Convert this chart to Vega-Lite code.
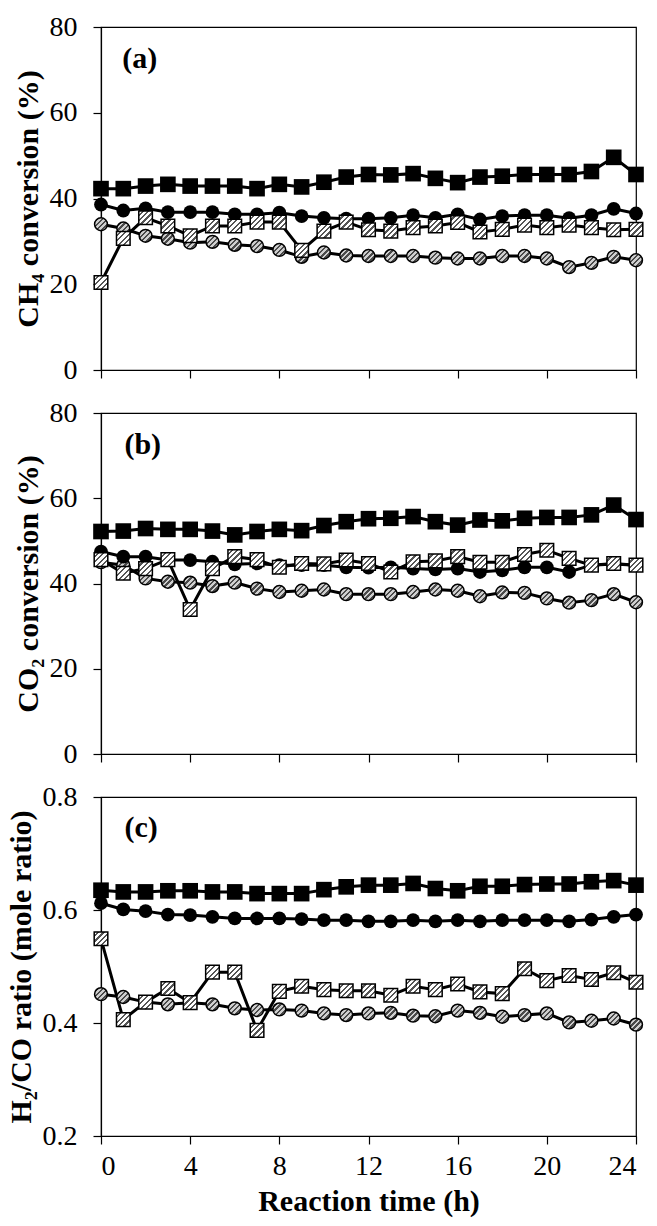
{
  "$schema": "https://vega.github.io/schema/vega-lite/v6.json",
  "background": "white",
  "padding": {"left": 5, "top": 12, "right": 5, "bottom": 5},
  "spacing": 43,
  "bounds": "flush",
  "config": {
    "font": "Liberation Serif",
    "view": {"stroke": "black", "strokeWidth": 1.2},
    "axis": {
      "grid": false,
      "domainColor": "black",
      "domainWidth": 1.2,
      "tickColor": "black",
      "tickWidth": 1.2,
      "tickSize": 8,
      "labelFontSize": 28,
      "labelColor": "black",
      "titleFontSize": 30,
      "titleFontWeight": "bold",
      "titleColor": "black"
    },
    "axisY": {"labelPadding": 16, "titlePadding": 6},
    "axisX": {"labelPadding": 8, "titlePadding": 6},
    "text": {"font": "Liberation Serif", "fontSize": 30, "fontWeight": "bold", "color": "black"}
  },
  "datasets": {
    "a": [
      {"s":"filled square","t":0,"v":42.3},{"s":"filled square","t":1,"v":42.3},{"s":"filled square","t":2,"v":42.9},{"s":"filled square","t":3,"v":43.3},{"s":"filled square","t":4,"v":42.9},
      {"s":"filled square","t":5,"v":42.9},{"s":"filled square","t":6,"v":42.9},{"s":"filled square","t":7,"v":42.3},{"s":"filled square","t":8,"v":43.3},{"s":"filled square","t":9,"v":42.7},
      {"s":"filled square","t":10,"v":43.8},{"s":"filled square","t":11,"v":45.0},{"s":"filled square","t":12,"v":45.6},{"s":"filled square","t":13,"v":45.5},{"s":"filled square","t":14,"v":45.8},
      {"s":"filled square","t":15,"v":44.7},{"s":"filled square","t":16,"v":43.7},{"s":"filled square","t":17,"v":45.0},{"s":"filled square","t":18,"v":45.2},{"s":"filled square","t":19,"v":45.6},
      {"s":"filled square","t":20,"v":45.6},{"s":"filled square","t":21,"v":45.6},{"s":"filled square","t":22,"v":46.3},{"s":"filled square","t":23,"v":49.6},{"s":"filled square","t":24,"v":45.6},
      {"s":"filled circle","t":0,"v":38.6},{"s":"filled circle","t":1,"v":37.2},{"s":"filled circle","t":2,"v":37.7},{"s":"filled circle","t":3,"v":36.8},{"s":"filled circle","t":4,"v":36.8},
      {"s":"filled circle","t":5,"v":36.8},{"s":"filled circle","t":6,"v":36.3},{"s":"filled circle","t":7,"v":36.3},{"s":"filled circle","t":8,"v":36.7},{"s":"filled circle","t":9,"v":35.9},
      {"s":"filled circle","t":10,"v":35.5},{"s":"filled circle","t":11,"v":35.3},{"s":"filled circle","t":12,"v":35.3},{"s":"filled circle","t":13,"v":35.5},{"s":"filled circle","t":14,"v":36.1},
      {"s":"filled circle","t":15,"v":35.5},{"s":"filled circle","t":16,"v":36.3},{"s":"filled circle","t":17,"v":35.1},{"s":"filled circle","t":18,"v":35.9},{"s":"filled circle","t":19,"v":36.1},
      {"s":"filled circle","t":20,"v":36.1},{"s":"filled circle","t":21,"v":35.4},{"s":"filled circle","t":22,"v":36.1},{"s":"filled circle","t":23,"v":37.6},{"s":"filled circle","t":24,"v":36.5},
      {"s":"hatched square","t":0,"v":20.4},{"s":"hatched square","t":1,"v":30.7},{"s":"hatched square","t":2,"v":35.5},{"s":"hatched square","t":3,"v":33.6},{"s":"hatched square","t":4,"v":31.3},
      {"s":"hatched square","t":5,"v":33.6},{"s":"hatched square","t":6,"v":33.6},{"s":"hatched square","t":7,"v":34.5},{"s":"hatched square","t":8,"v":34.5},{"s":"hatched square","t":9,"v":27.9},
      {"s":"hatched square","t":10,"v":32.4},{"s":"hatched square","t":11,"v":34.5},{"s":"hatched square","t":12,"v":32.7},{"s":"hatched square","t":13,"v":32.4},{"s":"hatched square","t":14,"v":33.2},
      {"s":"hatched square","t":15,"v":33.6},{"s":"hatched square","t":16,"v":34.4},{"s":"hatched square","t":17,"v":32.2},{"s":"hatched square","t":18,"v":32.8},{"s":"hatched square","t":19,"v":33.8},
      {"s":"hatched square","t":20,"v":33.2},{"s":"hatched square","t":21,"v":33.8},{"s":"hatched square","t":22,"v":33.2},{"s":"hatched square","t":23,"v":32.7},{"s":"hatched square","t":24,"v":32.8},
      {"s":"hatched circle","t":0,"v":34.0},{"s":"hatched circle","t":1,"v":33.0},{"s":"hatched circle","t":2,"v":31.3},{"s":"hatched circle","t":3,"v":30.6},{"s":"hatched circle","t":4,"v":29.7},
      {"s":"hatched circle","t":5,"v":29.9},{"s":"hatched circle","t":6,"v":29.2},{"s":"hatched circle","t":7,"v":28.9},{"s":"hatched circle","t":8,"v":28.0},{"s":"hatched circle","t":9,"v":26.4},
      {"s":"hatched circle","t":10,"v":27.4},{"s":"hatched circle","t":11,"v":26.7},{"s":"hatched circle","t":12,"v":26.6},{"s":"hatched circle","t":13,"v":26.6},{"s":"hatched circle","t":14,"v":26.6},
      {"s":"hatched circle","t":15,"v":26.2},{"s":"hatched circle","t":16,"v":26.0},{"s":"hatched circle","t":17,"v":26.0},{"s":"hatched circle","t":18,"v":26.6},{"s":"hatched circle","t":19,"v":26.6},
      {"s":"hatched circle","t":20,"v":26.0},{"s":"hatched circle","t":21,"v":24.0},{"s":"hatched circle","t":22,"v":25.0},{"s":"hatched circle","t":23,"v":26.4},{"s":"hatched circle","t":24,"v":25.6}
    ],
    "b": [
      {"s":"filled square","t":0,"v":52.2},{"s":"filled square","t":1,"v":52.3},{"s":"filled square","t":2,"v":52.9},{"s":"filled square","t":3,"v":52.7},{"s":"filled square","t":4,"v":52.7},
      {"s":"filled square","t":5,"v":52.3},{"s":"filled square","t":6,"v":51.4},{"s":"filled square","t":7,"v":52.2},{"s":"filled square","t":8,"v":52.7},{"s":"filled square","t":9,"v":52.4},
      {"s":"filled square","t":10,"v":53.6},{"s":"filled square","t":11,"v":54.5},{"s":"filled square","t":12,"v":55.2},{"s":"filled square","t":13,"v":55.3},{"s":"filled square","t":14,"v":55.7},
      {"s":"filled square","t":15,"v":54.5},{"s":"filled square","t":16,"v":53.7},{"s":"filled square","t":17,"v":54.9},{"s":"filled square","t":18,"v":54.7},{"s":"filled square","t":19,"v":55.3},
      {"s":"filled square","t":20,"v":55.5},{"s":"filled square","t":21,"v":55.5},{"s":"filled square","t":22,"v":56.1},{"s":"filled square","t":23,"v":58.4},{"s":"filled square","t":24,"v":55.0},
      {"s":"filled circle","t":0,"v":47.5},{"s":"filled circle","t":1,"v":46.3},{"s":"filled circle","t":2,"v":46.3},{"s":"filled circle","t":3,"v":45.5},{"s":"filled circle","t":4,"v":45.5},
      {"s":"filled circle","t":5,"v":45.1},{"s":"filled circle","t":6,"v":44.5},{"s":"filled circle","t":7,"v":44.7},{"s":"filled circle","t":8,"v":44.3},{"s":"filled circle","t":9,"v":44.3},
      {"s":"filled circle","t":10,"v":44.3},{"s":"filled circle","t":11,"v":43.8},{"s":"filled circle","t":12,"v":43.7},{"s":"filled circle","t":13,"v":43.8},{"s":"filled circle","t":14,"v":43.5},
      {"s":"filled circle","t":15,"v":43.3},{"s":"filled circle","t":16,"v":43.5},{"s":"filled circle","t":17,"v":42.7},{"s":"filled circle","t":18,"v":43.1},{"s":"filled circle","t":19,"v":43.8},
      {"s":"filled circle","t":20,"v":43.8},{"s":"filled circle","t":21,"v":42.7},{"s":"filled circle","t":22,"v":44.3},{"s":"filled circle","t":23,"v":44.6},{"s":"filled circle","t":24,"v":44.3},
      {"s":"hatched square","t":0,"v":45.6},{"s":"hatched square","t":1,"v":42.4},{"s":"hatched square","t":2,"v":43.5},{"s":"hatched square","t":3,"v":45.6},{"s":"hatched square","t":4,"v":33.9},
      {"s":"hatched square","t":5,"v":43.5},{"s":"hatched square","t":6,"v":46.3},{"s":"hatched square","t":7,"v":45.6},{"s":"hatched square","t":8,"v":43.8},{"s":"hatched square","t":9,"v":44.7},
      {"s":"hatched square","t":10,"v":44.6},{"s":"hatched square","t":11,"v":45.5},{"s":"hatched square","t":12,"v":44.7},{"s":"hatched square","t":13,"v":42.7},{"s":"hatched square","t":14,"v":45.1},
      {"s":"hatched square","t":15,"v":45.3},{"s":"hatched square","t":16,"v":46.3},{"s":"hatched square","t":17,"v":45.0},{"s":"hatched square","t":18,"v":45.0},{"s":"hatched square","t":19,"v":46.8},
      {"s":"hatched square","t":20,"v":47.8},{"s":"hatched square","t":21,"v":45.9},{"s":"hatched square","t":22,"v":44.3},{"s":"hatched square","t":23,"v":44.7},{"s":"hatched square","t":24,"v":44.3},
      {"s":"hatched circle","t":0,"v":45.0},{"s":"hatched circle","t":1,"v":44.3},{"s":"hatched circle","t":2,"v":41.2},{"s":"hatched circle","t":3,"v":40.4},{"s":"hatched circle","t":4,"v":40.2},
      {"s":"hatched circle","t":5,"v":39.4},{"s":"hatched circle","t":6,"v":40.2},{"s":"hatched circle","t":7,"v":38.8},{"s":"hatched circle","t":8,"v":38.0},{"s":"hatched circle","t":9,"v":38.3},
      {"s":"hatched circle","t":10,"v":38.6},{"s":"hatched circle","t":11,"v":37.5},{"s":"hatched circle","t":12,"v":37.5},{"s":"hatched circle","t":13,"v":37.5},{"s":"hatched circle","t":14,"v":38.0},
      {"s":"hatched circle","t":15,"v":38.6},{"s":"hatched circle","t":16,"v":38.3},{"s":"hatched circle","t":17,"v":37.0},{"s":"hatched circle","t":18,"v":37.9},{"s":"hatched circle","t":19,"v":37.8},
      {"s":"hatched circle","t":20,"v":36.5},{"s":"hatched circle","t":21,"v":35.5},{"s":"hatched circle","t":22,"v":36.1},{"s":"hatched circle","t":23,"v":37.5},{"s":"hatched circle","t":24,"v":35.6}
    ],
    "c": [
      {"s":"filled square","t":0,"v":0.635},{"s":"filled square","t":1,"v":0.632},{"s":"filled square","t":2,"v":0.632},{"s":"filled square","t":3,"v":0.634},{"s":"filled square","t":4,"v":0.634},
      {"s":"filled square","t":5,"v":0.632},{"s":"filled square","t":6,"v":0.632},{"s":"filled square","t":7,"v":0.629},{"s":"filled square","t":8,"v":0.629},{"s":"filled square","t":9,"v":0.629},
      {"s":"filled square","t":10,"v":0.636},{"s":"filled square","t":11,"v":0.641},{"s":"filled square","t":12,"v":0.644},{"s":"filled square","t":13,"v":0.644},{"s":"filled square","t":14,"v":0.647},
      {"s":"filled square","t":15,"v":0.638},{"s":"filled square","t":16,"v":0.634},{"s":"filled square","t":17,"v":0.642},{"s":"filled square","t":18,"v":0.642},{"s":"filled square","t":19,"v":0.645},
      {"s":"filled square","t":20,"v":0.646},{"s":"filled square","t":21,"v":0.646},{"s":"filled square","t":22,"v":0.650},{"s":"filled square","t":23,"v":0.652},{"s":"filled square","t":24,"v":0.644},
      {"s":"filled circle","t":0,"v":0.612},{"s":"filled circle","t":1,"v":0.601},{"s":"filled circle","t":2,"v":0.598},{"s":"filled circle","t":3,"v":0.592},{"s":"filled circle","t":4,"v":0.591},
      {"s":"filled circle","t":5,"v":0.588},{"s":"filled circle","t":6,"v":0.585},{"s":"filled circle","t":7,"v":0.585},{"s":"filled circle","t":8,"v":0.585},{"s":"filled circle","t":9,"v":0.584},
      {"s":"filled circle","t":10,"v":0.582},{"s":"filled circle","t":11,"v":0.582},{"s":"filled circle","t":12,"v":0.580},{"s":"filled circle","t":13,"v":0.580},{"s":"filled circle","t":14,"v":0.582},
      {"s":"filled circle","t":15,"v":0.580},{"s":"filled circle","t":16,"v":0.582},{"s":"filled circle","t":17,"v":0.580},{"s":"filled circle","t":18,"v":0.582},{"s":"filled circle","t":19,"v":0.582},
      {"s":"filled circle","t":20,"v":0.582},{"s":"filled circle","t":21,"v":0.580},{"s":"filled circle","t":22,"v":0.583},{"s":"filled circle","t":23,"v":0.588},{"s":"filled circle","t":24,"v":0.592},
      {"s":"hatched square","t":0,"v":0.549},{"s":"hatched square","t":1,"v":0.406},{"s":"hatched square","t":2,"v":0.437},{"s":"hatched square","t":3,"v":0.461},{"s":"hatched square","t":4,"v":0.436},
      {"s":"hatched square","t":5,"v":0.490},{"s":"hatched square","t":6,"v":0.490},{"s":"hatched square","t":7,"v":0.387},{"s":"hatched square","t":8,"v":0.456},{"s":"hatched square","t":9,"v":0.465},
      {"s":"hatched square","t":10,"v":0.459},{"s":"hatched square","t":11,"v":0.457},{"s":"hatched square","t":12,"v":0.457},{"s":"hatched square","t":13,"v":0.449},{"s":"hatched square","t":14,"v":0.465},
      {"s":"hatched square","t":15,"v":0.459},{"s":"hatched square","t":16,"v":0.469},{"s":"hatched square","t":17,"v":0.455},{"s":"hatched square","t":18,"v":0.452},{"s":"hatched square","t":19,"v":0.496},
      {"s":"hatched square","t":20,"v":0.475},{"s":"hatched square","t":21,"v":0.484},{"s":"hatched square","t":22,"v":0.477},{"s":"hatched square","t":23,"v":0.489},{"s":"hatched square","t":24,"v":0.472},
      {"s":"hatched circle","t":0,"v":0.451},{"s":"hatched circle","t":1,"v":0.446},{"s":"hatched circle","t":2,"v":0.437},{"s":"hatched circle","t":3,"v":0.433},{"s":"hatched circle","t":4,"v":0.436},
      {"s":"hatched circle","t":5,"v":0.433},{"s":"hatched circle","t":6,"v":0.426},{"s":"hatched circle","t":7,"v":0.423},{"s":"hatched circle","t":8,"v":0.424},{"s":"hatched circle","t":9,"v":0.422},
      {"s":"hatched circle","t":10,"v":0.417},{"s":"hatched circle","t":11,"v":0.414},{"s":"hatched circle","t":12,"v":0.417},{"s":"hatched circle","t":13,"v":0.418},{"s":"hatched circle","t":14,"v":0.413},
      {"s":"hatched circle","t":15,"v":0.412},{"s":"hatched circle","t":16,"v":0.422},{"s":"hatched circle","t":17,"v":0.418},{"s":"hatched circle","t":18,"v":0.411},{"s":"hatched circle","t":19,"v":0.414},
      {"s":"hatched circle","t":20,"v":0.417},{"s":"hatched circle","t":21,"v":0.401},{"s":"hatched circle","t":22,"v":0.404},{"s":"hatched circle","t":23,"v":0.408},{"s":"hatched circle","t":24,"v":0.397}
    ]
  },
  "vconcat": [
    {
      "width": 535, "height": 343,
      "layer": [
        {"data": {"name": "a"}, "mark": {"type": "line", "color": "black", "strokeWidth": 3},
         "encoding": {
           "x": {"field": "t", "type": "quantitative", "scale": {"domain": [0, 24]}, "axis": {"values": [0,4,8,12,16,20,24], "labels": false, "title": null}},
           "y": {"field": "v", "type": "quantitative", "scale": {"domain": [0, 80]}, "axis": {"values": [0,20,40,60,80], "title": "CH₄ conversion (%)"}},
           "detail": {"field": "s"}}},
        {"data": {"name": "a"}, "transform": [{"filter": "datum.s === 'hatched circle'"}],
         "mark": {"type": "point", "shape": "circle", "size": 165, "filled": true, "stroke": "black", "strokeWidth": 1.5, "opacity": 1,
           "fill": {"gradient": "linear", "x1": 0, "y1": 0, "x2": 1, "y2": 1, "stops": [{"offset":0,"color":"#cfcfcf"},{"offset":0.11,"color":"#cfcfcf"},{"offset":0.11,"color":"#4a4a4a"},{"offset":0.2,"color":"#4a4a4a"},{"offset":0.2,"color":"#cfcfcf"},{"offset":0.31,"color":"#cfcfcf"},{"offset":0.31,"color":"#4a4a4a"},{"offset":0.4,"color":"#4a4a4a"},{"offset":0.4,"color":"#cfcfcf"},{"offset":0.51,"color":"#cfcfcf"},{"offset":0.51,"color":"#4a4a4a"},{"offset":0.6,"color":"#4a4a4a"},{"offset":0.6,"color":"#cfcfcf"},{"offset":0.71,"color":"#cfcfcf"},{"offset":0.71,"color":"#4a4a4a"},{"offset":0.8,"color":"#4a4a4a"},{"offset":0.8,"color":"#cfcfcf"},{"offset":1,"color":"#cfcfcf"}]}},
         "encoding": {"x": {"field": "t", "type": "quantitative"}, "y": {"field": "v", "type": "quantitative"}}},
        {"data": {"name": "a"}, "transform": [{"filter": "datum.s === 'filled circle'"}],
         "mark": {"type": "point", "shape": "circle", "size": 190, "filled": true, "color": "black", "opacity": 1},
         "encoding": {"x": {"field": "t", "type": "quantitative"}, "y": {"field": "v", "type": "quantitative"}}},
        {"data": {"name": "a"}, "transform": [{"filter": "datum.s === 'hatched square'"}],
         "mark": {"type": "point", "shape": "square", "size": 185, "filled": true, "stroke": "black", "strokeWidth": 1.5, "opacity": 1,
           "fill": {"gradient": "linear", "x1": 0, "y1": 0, "x2": 1, "y2": 1, "stops": [{"offset":0,"color":"white"},{"offset":0.12,"color":"white"},{"offset":0.12,"color":"#555"},{"offset":0.2,"color":"#555"},{"offset":0.2,"color":"white"},{"offset":0.32,"color":"white"},{"offset":0.32,"color":"#555"},{"offset":0.4,"color":"#555"},{"offset":0.4,"color":"white"},{"offset":0.52,"color":"white"},{"offset":0.52,"color":"#555"},{"offset":0.6,"color":"#555"},{"offset":0.6,"color":"white"},{"offset":0.72,"color":"white"},{"offset":0.72,"color":"#555"},{"offset":0.8,"color":"#555"},{"offset":0.8,"color":"white"},{"offset":1,"color":"white"}]}},
         "encoding": {"x": {"field": "t", "type": "quantitative"}, "y": {"field": "v", "type": "quantitative"}}},
        {"data": {"name": "a"}, "transform": [{"filter": "datum.s === 'filled square'"}],
         "mark": {"type": "point", "shape": "square", "size": 245, "filled": true, "color": "black", "opacity": 1},
         "encoding": {"x": {"field": "t", "type": "quantitative"}, "y": {"field": "v", "type": "quantitative"}}},
        {"data": {"values": [{"label": "(a)"}]},
         "mark": {"type": "text", "align": "left", "baseline": "middle"},
         "encoding": {"x": {"datum": 0.95, "type": "quantitative"}, "y": {"datum": 72.6, "type": "quantitative"}, "text": {"field": "label", "type": "nominal"}}}
      ]
    },
    {
      "width": 535, "height": 341,
      "layer": [
        {"data": {"name": "b"}, "mark": {"type": "line", "color": "black", "strokeWidth": 3},
         "encoding": {
           "x": {"field": "t", "type": "quantitative", "scale": {"domain": [0, 24]}, "axis": {"values": [0,4,8,12,16,20,24], "labels": false, "title": null}},
           "y": {"field": "v", "type": "quantitative", "scale": {"domain": [0, 80]}, "axis": {"values": [0,20,40,60,80], "title": "CO₂  conversion (%)"}},
           "detail": {"field": "s"}}},
        {"data": {"name": "b"}, "transform": [{"filter": "datum.s === 'hatched circle'"}],
         "mark": {"type": "point", "shape": "circle", "size": 165, "filled": true, "stroke": "black", "strokeWidth": 1.5, "opacity": 1,
           "fill": {"gradient": "linear", "x1": 0, "y1": 0, "x2": 1, "y2": 1, "stops": [{"offset":0,"color":"#cfcfcf"},{"offset":0.11,"color":"#cfcfcf"},{"offset":0.11,"color":"#4a4a4a"},{"offset":0.2,"color":"#4a4a4a"},{"offset":0.2,"color":"#cfcfcf"},{"offset":0.31,"color":"#cfcfcf"},{"offset":0.31,"color":"#4a4a4a"},{"offset":0.4,"color":"#4a4a4a"},{"offset":0.4,"color":"#cfcfcf"},{"offset":0.51,"color":"#cfcfcf"},{"offset":0.51,"color":"#4a4a4a"},{"offset":0.6,"color":"#4a4a4a"},{"offset":0.6,"color":"#cfcfcf"},{"offset":0.71,"color":"#cfcfcf"},{"offset":0.71,"color":"#4a4a4a"},{"offset":0.8,"color":"#4a4a4a"},{"offset":0.8,"color":"#cfcfcf"},{"offset":1,"color":"#cfcfcf"}]}},
         "encoding": {"x": {"field": "t", "type": "quantitative"}, "y": {"field": "v", "type": "quantitative"}}},
        {"data": {"name": "b"}, "transform": [{"filter": "datum.s === 'filled circle'"}],
         "mark": {"type": "point", "shape": "circle", "size": 190, "filled": true, "color": "black", "opacity": 1},
         "encoding": {"x": {"field": "t", "type": "quantitative"}, "y": {"field": "v", "type": "quantitative"}}},
        {"data": {"name": "b"}, "transform": [{"filter": "datum.s === 'hatched square'"}],
         "mark": {"type": "point", "shape": "square", "size": 185, "filled": true, "stroke": "black", "strokeWidth": 1.5, "opacity": 1,
           "fill": {"gradient": "linear", "x1": 0, "y1": 0, "x2": 1, "y2": 1, "stops": [{"offset":0,"color":"white"},{"offset":0.12,"color":"white"},{"offset":0.12,"color":"#555"},{"offset":0.2,"color":"#555"},{"offset":0.2,"color":"white"},{"offset":0.32,"color":"white"},{"offset":0.32,"color":"#555"},{"offset":0.4,"color":"#555"},{"offset":0.4,"color":"white"},{"offset":0.52,"color":"white"},{"offset":0.52,"color":"#555"},{"offset":0.6,"color":"#555"},{"offset":0.6,"color":"white"},{"offset":0.72,"color":"white"},{"offset":0.72,"color":"#555"},{"offset":0.8,"color":"#555"},{"offset":0.8,"color":"white"},{"offset":1,"color":"white"}]}},
         "encoding": {"x": {"field": "t", "type": "quantitative"}, "y": {"field": "v", "type": "quantitative"}}},
        {"data": {"name": "b"}, "transform": [{"filter": "datum.s === 'filled square'"}],
         "mark": {"type": "point", "shape": "square", "size": 245, "filled": true, "color": "black", "opacity": 1},
         "encoding": {"x": {"field": "t", "type": "quantitative"}, "y": {"field": "v", "type": "quantitative"}}},
        {"data": {"values": [{"label": "(b)"}]},
         "mark": {"type": "text", "align": "left", "baseline": "middle"},
         "encoding": {"x": {"datum": 1.05, "type": "quantitative"}, "y": {"datum": 72.4, "type": "quantitative"}, "text": {"field": "label", "type": "nominal"}}}
      ]
    },
    {
      "width": 535, "height": 339,
      "layer": [
        {"data": {"name": "c"}, "mark": {"type": "line", "color": "black", "strokeWidth": 3},
         "encoding": {
           "x": {"field": "t", "type": "quantitative", "scale": {"domain": [0, 24]}, "axis": {"values": [0,4,8,12,16,20,24], "title": "Reaction time (h)"}},
           "y": {"field": "v", "type": "quantitative", "scale": {"domain": [0.2, 0.8]}, "axis": {"values": [0.2,0.4,0.6,0.8], "format": ".1f", "title": "H₂/CO ratio (mole ratio)"}},
           "detail": {"field": "s"}}},
        {"data": {"name": "c"}, "transform": [{"filter": "datum.s === 'hatched circle'"}],
         "mark": {"type": "point", "shape": "circle", "size": 165, "filled": true, "stroke": "black", "strokeWidth": 1.5, "opacity": 1,
           "fill": {"gradient": "linear", "x1": 0, "y1": 0, "x2": 1, "y2": 1, "stops": [{"offset":0,"color":"#cfcfcf"},{"offset":0.11,"color":"#cfcfcf"},{"offset":0.11,"color":"#4a4a4a"},{"offset":0.2,"color":"#4a4a4a"},{"offset":0.2,"color":"#cfcfcf"},{"offset":0.31,"color":"#cfcfcf"},{"offset":0.31,"color":"#4a4a4a"},{"offset":0.4,"color":"#4a4a4a"},{"offset":0.4,"color":"#cfcfcf"},{"offset":0.51,"color":"#cfcfcf"},{"offset":0.51,"color":"#4a4a4a"},{"offset":0.6,"color":"#4a4a4a"},{"offset":0.6,"color":"#cfcfcf"},{"offset":0.71,"color":"#cfcfcf"},{"offset":0.71,"color":"#4a4a4a"},{"offset":0.8,"color":"#4a4a4a"},{"offset":0.8,"color":"#cfcfcf"},{"offset":1,"color":"#cfcfcf"}]}},
         "encoding": {"x": {"field": "t", "type": "quantitative"}, "y": {"field": "v", "type": "quantitative"}}},
        {"data": {"name": "c"}, "transform": [{"filter": "datum.s === 'filled circle'"}],
         "mark": {"type": "point", "shape": "circle", "size": 190, "filled": true, "color": "black", "opacity": 1},
         "encoding": {"x": {"field": "t", "type": "quantitative"}, "y": {"field": "v", "type": "quantitative"}}},
        {"data": {"name": "c"}, "transform": [{"filter": "datum.s === 'hatched square'"}],
         "mark": {"type": "point", "shape": "square", "size": 185, "filled": true, "stroke": "black", "strokeWidth": 1.5, "opacity": 1,
           "fill": {"gradient": "linear", "x1": 0, "y1": 0, "x2": 1, "y2": 1, "stops": [{"offset":0,"color":"white"},{"offset":0.12,"color":"white"},{"offset":0.12,"color":"#555"},{"offset":0.2,"color":"#555"},{"offset":0.2,"color":"white"},{"offset":0.32,"color":"white"},{"offset":0.32,"color":"#555"},{"offset":0.4,"color":"#555"},{"offset":0.4,"color":"white"},{"offset":0.52,"color":"white"},{"offset":0.52,"color":"#555"},{"offset":0.6,"color":"#555"},{"offset":0.6,"color":"white"},{"offset":0.72,"color":"white"},{"offset":0.72,"color":"#555"},{"offset":0.8,"color":"#555"},{"offset":0.8,"color":"white"},{"offset":1,"color":"white"}]}},
         "encoding": {"x": {"field": "t", "type": "quantitative"}, "y": {"field": "v", "type": "quantitative"}}},
        {"data": {"name": "c"}, "transform": [{"filter": "datum.s === 'filled square'"}],
         "mark": {"type": "point", "shape": "square", "size": 245, "filled": true, "color": "black", "opacity": 1},
         "encoding": {"x": {"field": "t", "type": "quantitative"}, "y": {"field": "v", "type": "quantitative"}}},
        {"data": {"values": [{"label": "(c)"}]},
         "mark": {"type": "text", "align": "left", "baseline": "middle"},
         "encoding": {"x": {"datum": 1.05, "type": "quantitative"}, "y": {"datum": 0.745, "type": "quantitative"}, "text": {"field": "label", "type": "nominal"}}}
      ]
    }
  ]
}
